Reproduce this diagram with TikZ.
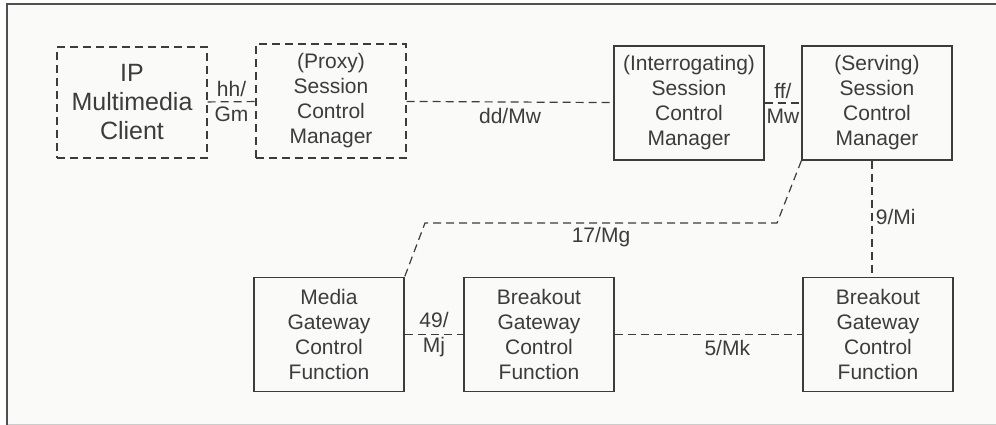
\documentclass[tikz,border=0pt]{standalone}
\usepackage{fontspec}
\setmainfont{Liberation Sans}
\usepackage{tikz}
\usetikzlibrary{positioning}
\definecolor{ink}{HTML}{3C3C3C}
\definecolor{paper}{HTML}{FAFAF8}
\tikzset{
    unit/.style={draw=ink, line width=1.2pt, text=ink, minimum width=150pt, minimum height=114pt,
        align=center, font=\fontsize{21}{25}\selectfont},
    dunit/.style={unit, dash pattern=on 8pt off 5pt},
    iface/.style={draw=ink, line width=1.2pt, dash pattern=on 8pt off 5pt},
    lbl/.style={text=ink, align=center, font=\fontsize{21}{25}\selectfont}
}

\begin{document}
\begin{tikzpicture}[x=1pt, y=-1pt]
            \useasboundingbox (0, 0) rectangle (996, 425);
            \fill [paper] (6, 3) rectangle (996, 425);
            \draw [black!20, line width=1pt] (6, 424) -- (996, 424);
            \draw [ink!90, line width=2.2pt] (7, 425) -- (7, 4) -- (996, 4);

            \node [dunit, minimum height=111pt, font=\fontsize{25}{29}\selectfont] (imc) at (132, 102.5) {IP\\Multimedia\\Client};
            \node [dunit] (pscm) at (331, 101) {(Proxy)\\Session\\Control\\Manager};
            \node [unit] (iscm) at (689, 103) {(Interrogating)\\Session\\Control\\Manager};
            \node [unit] (sscm) at (877, 103) {(Serving)\\Session\\Control\\Manager};
            \node [unit] (mgcf) at (329, 334.5) {Media\\Gateway\\Control\\Function};
            \node [unit] (bgcf) at (539, 334.5) {Breakout\\Gateway\\Control\\Function};
            \node [unit] (bgcfs) at (878, 334.5) {Breakout\\Gateway\\Control\\Function};

            \coordinate (mgA) at (777, 223);
            \coordinate (mgB) at (425, 223);

            \draw [iface] (imc) -- (pscm) node [midway, lbl] {hh/\\Gm};
            \draw [iface] (pscm) -- (iscm) node [midway, below, lbl, yshift=-2pt] {dd/Mw};
            \draw [iface] (iscm) -- (sscm) node [midway, lbl] {ff/\\Mw};
            \draw [iface] (sscm.south west) -- (mgA) -- (mgB) node [midway, below, lbl] {17/Mg} -- (mgcf.north east);
            \draw [iface] (sscm.south -| 872, 0) -- (bgcfs.north -| 872, 0) node [midway, right, lbl, yshift=2pt] {9/Mi};
            \draw [iface] (mgcf) -- (bgcf) node [midway, lbl] {49/\\Mj};
            \draw [iface] (bgcf) -- (bgcfs) node [pos=0.6, below, lbl, yshift=-2pt] {5/Mk};
        \end{tikzpicture}
\end{document}
